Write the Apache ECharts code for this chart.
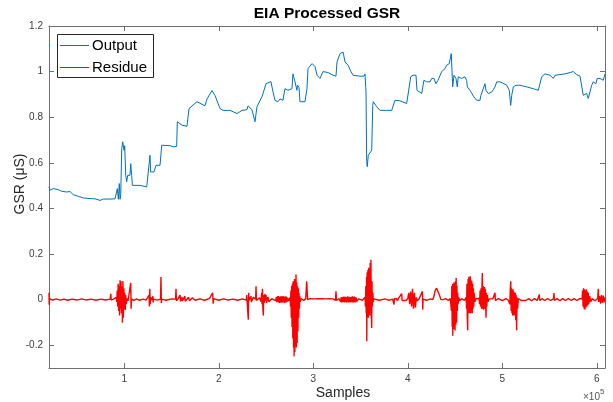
<!DOCTYPE html>
<html>
<head>
<meta charset="utf-8">
<script src="https://cdn.jsdelivr.net/npm/echarts@6/dist/echarts.min.js"></script>
<style>
  html, body { margin: 0; padding: 0; background: #fff; }
  #chart { width: 613px; height: 402px; }
</style>
</head>
<body>
<div id="chart"></div>
<script>
// Sample index is in units of 1e5 samples (axis shows the x10^5 multiplier).
const xMin = 0.203;
const xMax = 6.087;
const yMin = -0.3;
const yMax = 1.2;
const xTicks = [1, 2, 3, 4, 5, 6];
const yTicks = [-0.2, 0, 0.2, 0.4, 0.6, 0.8, 1, 1.2];
const seriesNames = ['Output', 'Residue'];
const seriesColors = ['#0072BD', '#FF0000'];

// Processed GSR output (µS)
const outputPoints = [
  [0.203,0.495],[0.214,0.480],[0.249,0.487],[0.267,0.490],[0.302,0.482],[0.338,0.475],
  [0.390,0.472],[0.425,0.474],[0.460,0.460],[0.513,0.453],[0.566,0.446],[0.637,0.443],
  [0.690,0.442],[0.743,0.435],[0.778,0.441],[0.849,0.441],[0.902,0.442],[0.920,0.438],
  [0.926,0.487],[0.937,0.440],[0.947,0.509],[0.955,0.440],[0.962,0.460],[0.973,0.662],
  [0.983,0.692],[0.997,0.655],[1.004,0.675],[1.015,0.545],[1.025,0.517],[1.036,0.545],
  [1.060,0.545],[1.068,0.596],[1.078,0.545],[1.085,0.501],[1.166,0.501],[1.184,0.494],
  [1.237,0.494],[1.254,0.500],[1.272,0.633],[1.279,0.560],[1.314,0.560],[1.335,0.589],
  [1.378,0.589],[1.396,0.677],[1.484,0.675],[1.519,0.670],[1.554,0.672],[1.561,0.780],
  [1.611,0.765],[1.663,0.760],[1.685,0.838],[1.769,0.868],[1.854,0.850],[1.875,0.880],
  [1.928,0.917],[1.960,0.895],[2.013,0.838],[2.044,0.830],[2.118,0.830],[2.193,0.816],
  [2.245,0.830],[2.298,0.833],[2.309,0.850],[2.351,0.833],[2.383,0.780],[2.404,0.846],
  [2.457,0.890],[2.468,0.882],[2.500,0.947],[2.521,0.940],[2.552,0.956],[2.574,0.910],
  [2.595,0.874],[2.626,0.868],[2.648,0.880],[2.679,0.874],[2.700,0.925],[2.732,0.918],
  [2.774,0.925],[2.785,0.990],[2.806,0.956],[2.827,0.918],[2.833,0.940],[2.849,0.930],
  [2.859,0.868],[2.912,0.868],[2.933,0.925],[2.944,1.013],[2.987,1.035],[3.018,1.022],
  [3.040,0.984],[3.071,0.970],[3.103,1.000],[3.156,0.996],[3.209,0.984],[3.240,0.980],
  [3.251,1.042],[3.283,1.079],[3.315,1.086],[3.336,1.042],[3.368,1.028],[3.399,1.000],
  [3.420,0.984],[3.494,0.980],[3.537,0.980],[3.547,0.990],[3.555,0.930],[3.558,0.910],
  [3.565,0.605],[3.571,0.583],[3.582,0.633],[3.618,0.655],[3.629,0.852],[3.635,0.868],
  [3.671,0.846],[3.706,0.830],[3.777,0.830],[3.830,0.830],[3.843,0.826],[3.864,0.874],
  [3.917,0.872],[3.988,0.860],[4.001,0.868],[4.031,0.977],[4.055,0.984],[4.087,0.984],
  [4.097,0.918],[4.147,0.904],[4.171,0.962],[4.200,0.955],[4.235,0.955],[4.253,0.970],
  [4.277,0.970],[4.298,0.947],[4.320,0.962],[4.359,1.000],[4.394,1.013],[4.412,1.028],
  [4.439,1.035],[4.454,1.028],[4.460,1.079],[4.475,0.933],[4.489,0.984],[4.510,0.970],
  [4.524,0.933],[4.534,0.977],[4.570,0.970],[4.605,0.977],[4.623,0.961],[4.630,0.933],
  [4.658,0.918],[4.676,0.910],[4.700,0.889],[4.729,0.874],[4.764,0.874],[4.774,0.896],
  [4.792,0.904],[4.817,0.947],[4.827,0.918],[4.852,0.904],[4.888,0.910],[4.923,0.933],
  [4.941,0.955],[4.976,0.955],[5.018,0.947],[5.047,0.940],[5.074,0.918],[5.089,0.852],
  [5.100,0.896],[5.117,0.933],[5.145,0.940],[5.159,0.947],[5.187,0.940],[5.258,0.933],
  [5.328,0.925],[5.381,0.918],[5.417,0.977],[5.452,0.990],[5.505,0.984],[5.540,0.970],
  [5.558,0.984],[5.611,0.987],[5.664,0.990],[5.717,0.996],[5.751,1.000],[5.787,0.987],
  [5.822,0.980],[5.840,0.977],[5.857,0.896],[5.875,0.889],[5.893,0.904],[5.910,0.882],
  [5.928,0.882],[5.946,0.940],[5.963,0.955],[5.991,0.947],[6.005,0.970],[6.034,0.970],
  [6.069,0.962],[6.087,0.990]
];

// Residue (µS)
const residuePoints = [
  [0.203,0.030],[0.205,-0.022],[0.208,0.004],[0.240,-0.002],[0.280,0.003],[0.320,-0.002],
  [0.360,0.002],[0.400,-0.003],[0.450,0.002],[0.500,-0.002],[0.550,0.003],[0.600,-0.002],
  [0.650,0.002],[0.700,-0.003],[0.750,0.002],[0.800,-0.002],[0.850,0.002],[0.857,0.025],
  [0.861,-0.002],[0.890,0.003],[0.910,-0.003],
  [0.915,0.010],[0.920,-0.010],[0.925,0.040],[0.930,-0.030],[0.935,0.070],[0.940,-0.050],
  [0.945,0.060],[0.950,-0.070],[0.955,0.085],[0.960,-0.040],[0.965,0.080],[0.970,-0.060],
  [0.975,0.060],[0.980,-0.102],[0.985,0.082],[0.990,-0.080],[0.995,0.050],[1.000,-0.040],
  [1.005,0.030],[1.010,-0.045],[1.015,0.020],[1.020,-0.020],[1.030,0.005],[1.040,-0.005],
  [1.060,0.002],[1.068,0.073],[1.072,-0.040],[1.076,0.003],[1.100,-0.003],[1.130,0.003],
  [1.160,-0.003],[1.200,0.002],[1.230,-0.002],
  [1.262,0.020],[1.266,-0.030],[1.270,0.047],[1.274,-0.020],[1.278,0.010],[1.290,-0.003],
  [1.302,0.015],[1.306,-0.012],[1.310,0.002],[1.350,-0.002],[1.383,0.002],[1.388,0.099],
  [1.392,-0.015],[1.396,0.002],[1.440,-0.003],[1.500,0.003],[1.543,0.002],[1.547,0.047],
  [1.551,-0.005],[1.570,0.004],[1.590,0.020],[1.595,-0.008],[1.610,0.012],[1.615,-0.006],
  [1.640,0.015],[1.645,-0.007],[1.680,0.010],[1.690,-0.005],[1.720,0.008],[1.750,-0.003],
  [1.800,0.003],[1.850,-0.003],[1.900,0.004],[1.935,0.030],[1.940,-0.018],[1.945,0.004],
  [2.000,-0.003],[2.050,0.003],[2.100,-0.002],[2.150,0.002],[2.200,-0.003],[2.250,0.003],
  [2.290,-0.002],
  [2.296,0.020],[2.300,-0.010],[2.312,-0.088],[2.316,0.030],[2.320,-0.004],[2.340,0.015],
  [2.345,-0.010],[2.365,0.010],[2.390,0.002],[2.394,0.058],[2.398,-0.004],[2.430,0.008],
  [2.445,-0.008],[2.454,0.030],[2.458,-0.020],[2.462,0.047],[2.466,-0.030],[2.471,-0.070],
  [2.475,0.020],[2.480,-0.015],[2.489,0.025],[2.495,-0.005],[2.500,0.020],[2.505,-0.015],
  [2.520,0.012],[2.530,-0.010],[2.560,0.004],[2.600,-0.004],
  [2.610,0.010],[2.615,-0.012],[2.620,0.014],[2.625,-0.010],[2.630,0.016],[2.635,-0.013],
  [2.640,0.012],[2.645,-0.015],[2.650,0.013],[2.655,-0.011],[2.660,0.015],[2.665,-0.014],
  [2.670,0.012],[2.675,-0.012],[2.680,0.016],[2.685,-0.013],[2.690,0.011],[2.695,-0.015],
  [2.700,0.013],[2.705,-0.012],[2.710,0.014],[2.715,-0.011],[2.720,0.010],[2.725,-0.009],
  [2.730,0.007],[2.740,-0.006],
  [2.755,0.010],[2.759,-0.030],[2.763,0.040],[2.767,-0.080],[2.771,0.060],[2.775,-0.120],
  [2.779,0.070],[2.783,-0.170],[2.787,0.080],[2.791,-0.210],[2.795,0.070],[2.797,-0.249],
  [2.801,0.090],[2.805,-0.230],[2.809,0.085],[2.813,-0.200],[2.817,0.110],[2.821,-0.210],
  [2.825,0.075],[2.829,-0.190],[2.833,0.060],[2.837,-0.140],[2.841,0.050],[2.845,-0.080],
  [2.849,0.030],[2.853,-0.040],[2.857,0.015],[2.862,-0.010],[2.870,0.005],[2.900,-0.004],
  [2.920,0.005],[2.930,0.080],[2.940,0.000],[2.950,-0.005],
  [2.970,0.004],[2.990,-0.004],[3.010,0.003],[3.030,-0.004],[3.050,0.004],[3.070,-0.003],
  [3.090,0.004],[3.110,-0.004],[3.130,0.003],[3.150,-0.004],[3.170,0.004],[3.190,-0.003],
  [3.210,0.003],[3.235,-0.003],[3.240,0.036],[3.245,-0.004],[3.270,0.004],
  [3.290,-0.010],[3.295,0.011],[3.300,-0.012],[3.305,0.010],[3.310,-0.011],[3.315,0.012],
  [3.320,-0.010],[3.325,0.013],[3.330,-0.012],[3.335,0.011],[3.340,-0.010],[3.345,0.012],
  [3.350,-0.013],[3.355,0.010],[3.360,-0.011],[3.365,0.014],[3.370,-0.012],[3.375,0.010],
  [3.380,-0.011],[3.385,0.012],[3.390,-0.013],[3.395,0.011],[3.400,-0.010],[3.405,0.012],
  [3.410,-0.012],[3.415,0.014],[3.420,-0.013],[3.425,0.011],[3.430,-0.012],[3.435,0.013],
  [3.440,-0.011],[3.445,0.010],[3.450,-0.012],[3.455,0.009],[3.460,-0.008],[3.480,0.003],
  [3.520,-0.003],[3.540,0.003],
  [3.548,0.010],[3.552,-0.030],[3.556,0.060],[3.560,-0.060],[3.564,0.100],[3.566,-0.183],
  [3.570,0.120],[3.574,-0.070],[3.578,0.130],[3.582,-0.080],[3.586,0.140],[3.590,-0.060],
  [3.594,0.130],[3.598,-0.070],[3.602,0.160],[3.606,-0.050],[3.610,0.175],[3.614,-0.060],
  [3.618,-0.124],[3.621,0.080],[3.625,-0.030],[3.630,0.030],[3.635,-0.010],[3.640,0.003],
  [3.700,-0.003],[3.760,0.003],[3.800,-0.003],[3.840,0.002],
  [3.854,-0.022],[3.858,0.004],[3.870,-0.004],[3.880,0.005],[3.890,-0.005],[3.900,0.004],
  [3.920,-0.004],[3.935,0.026],[3.940,-0.004],[3.960,0.004],[3.980,-0.004],[4.000,0.005],
  [4.010,0.029],[4.020,-0.020],[4.030,0.035],[4.040,-0.030],[4.050,0.047],[4.060,-0.040],
  [4.070,0.030],[4.080,-0.035],[4.090,0.010],[4.100,-0.005],[4.120,0.004],[4.140,-0.004],
  [4.155,0.036],[4.158,-0.044],[4.162,0.002],[4.200,-0.003],[4.240,0.003],
  [4.265,0.000],[4.280,0.020],[4.290,0.040],[4.305,0.050],[4.320,0.045],[4.335,0.020],
  [4.350,0.000],[4.360,-0.007],[4.375,0.000],[4.400,0.004],[4.430,-0.004],[4.450,0.005],
  [4.458,0.010],[4.462,-0.050],[4.466,0.060],[4.470,-0.120],[4.474,0.070],[4.476,-0.158],
  [4.480,0.065],[4.484,-0.130],[4.488,0.075],[4.492,-0.120],[4.496,0.070],[4.500,-0.135],
  [4.504,0.080],[4.508,-0.110],[4.512,0.095],[4.516,-0.100],[4.520,0.060],[4.524,-0.050],
  [4.528,0.030],[4.532,-0.020],[4.540,0.010],[4.550,-0.005],[4.570,0.004],[4.600,-0.004],
  [4.618,0.010],[4.622,-0.040],[4.626,0.070],[4.630,-0.080],[4.634,-0.134],[4.638,0.090],
  [4.642,-0.060],[4.646,0.100],[4.650,-0.060],[4.654,0.090],[4.658,-0.055],[4.662,0.102],
  [4.666,-0.060],[4.670,0.085],[4.674,-0.050],[4.678,0.080],[4.682,-0.060],[4.686,0.070],
  [4.690,-0.040],[4.694,0.050],[4.698,-0.030],[4.702,0.030],[4.710,-0.010],[4.720,0.004],
  [4.740,-0.004],
  [4.755,0.005],[4.760,-0.020],[4.765,0.040],[4.770,-0.030],[4.775,0.050],[4.780,-0.040],
  [4.785,0.060],[4.789,0.117],[4.793,-0.040],[4.797,0.060],[4.801,-0.045],[4.805,0.050],
  [4.809,-0.040],[4.813,0.055],[4.817,-0.040],[4.821,0.045],[4.825,-0.035],[4.828,-0.080],
  [4.832,0.030],[4.836,-0.030],[4.842,0.020],[4.850,-0.010],[4.860,0.003],[4.880,-0.004],
  [4.900,0.004],[4.923,0.030],[4.927,-0.004],[4.960,0.004],[5.000,-0.004],[5.040,0.004],
  [5.065,-0.003],
  [5.075,0.005],[5.080,-0.020],[5.085,0.050],[5.090,0.080],[5.094,-0.050],[5.098,0.050],
  [5.102,-0.060],[5.106,0.040],[5.110,-0.070],[5.114,0.045],[5.118,-0.070],[5.122,0.035],
  [5.126,-0.060],[5.130,0.030],[5.134,-0.070],[5.138,0.030],[5.142,-0.090],[5.146,0.020],
  [5.152,-0.134],[5.156,0.010],[5.162,-0.040],[5.170,0.005],
  [5.200,-0.004],[5.220,0.004],[5.250,-0.004],[5.280,0.004],[5.310,-0.005],[5.340,0.004],
  [5.370,-0.004],[5.392,0.022],[5.396,-0.004],[5.420,0.004],[5.450,-0.004],[5.480,0.005],
  [5.510,-0.004],[5.543,0.004],[5.547,0.029],[5.551,-0.004],[5.580,0.004],[5.610,-0.005],
  [5.640,0.004],[5.670,-0.004],[5.700,0.005],[5.730,-0.004],[5.760,0.004],[5.790,-0.004],
  [5.820,0.004],[5.840,-0.004],
  [5.845,0.005],[5.850,0.040],[5.855,-0.030],[5.860,0.050],[5.865,-0.040],[5.870,0.045],
  [5.875,-0.044],[5.880,0.040],[5.885,-0.035],[5.890,0.045],[5.895,-0.030],[5.900,0.035],
  [5.905,-0.025],[5.910,0.030],[5.915,-0.020],[5.925,0.015],[5.935,-0.010],[5.950,0.004],
  [5.980,-0.005],[6.010,0.005],[6.016,0.047],[6.020,-0.010],[6.030,0.015],[6.040,-0.018],
  [6.050,0.020],[6.060,-0.015],[6.070,0.018],[6.080,-0.012],[6.087,0.010]
];

const FONT = '"Liberation Sans", Arial, Helvetica, sans-serif';
const AXIS_COLOR = '#6f6f6f';
const LABEL_COLOR = '#3c3c3c';

// One side of the boxed axes; ticks point inward like a closed plot frame.
function boxAxis(pos, min, max, ticks, showLabels) {
  return {
    type: 'value',
    position: pos,
    min: min,
    max: max,
    axisLine: { show: true, onZero: false, lineStyle: { color: AXIS_COLOR, width: 1 } },
    axisTick: { show: true, inside: true, length: 5, customValues: ticks,
                lineStyle: { color: AXIS_COLOR, width: 1 } },
    axisLabel: { show: showLabels, customValues: ticks, fontFamily: FONT, fontSize: 10,
                 color: LABEL_COLOR, margin: 6,
                 formatter: v => String(Math.round(v * 10) / 10) },
    splitLine: { show: false }
  };
}

// Boxed legend in the upper-left corner: a short line key and the series name per row.
function legendBox(left, top, width, rowHeight) {
  const children = [{
    type: 'rect',
    shape: { x: left + 0.5, y: top + 0.5, width: width, height: rowHeight * seriesNames.length - 1 },
    style: { fill: '#ffffff', stroke: '#262626', lineWidth: 1 }
  }];
  seriesNames.forEach((name, i) => {
    const cy = top + 11.5 + i * rowHeight;
    children.push({
      type: 'line',
      shape: { x1: left + 3, y1: cy, x2: left + 32, y2: cy },
      style: { stroke: seriesColors[i], lineWidth: 1 }
    });
    children.push({
      type: 'text', x: left + 35, y: cy,
      style: { text: name, font: '15px ' + FONT, fill: '#000',
               textAlign: 'left', textVerticalAlign: 'middle' }
    });
  });
  return { type: 'group', z: 100, children: children };
}

const chart = echarts.init(document.getElementById('chart'), null, { renderer: 'canvas' });
chart.setOption({
  animation: false,
  backgroundColor: '#ffffff',
  grid: { left: 49, right: 8, top: 26, bottom: 34 },
  xAxis: [
    boxAxis('bottom', xMin, xMax, xTicks, true),
    boxAxis('top', xMin, xMax, xTicks, false)
  ],
  yAxis: [
    boxAxis('left', yMin, yMax, yTicks, true),
    boxAxis('right', yMin, yMax, yTicks, false)
  ],
  graphic: [
    legendBox(57, 34, 96, 22),
    { type: 'text', x: 327, y: 14,
      style: { text: 'EIA Processed GSR', font: 'bold 15.5px ' + FONT, fill: '#000',
               textAlign: 'center', textVerticalAlign: 'middle' } },
    { type: 'text', x: 343, y: 393,
      style: { text: 'Samples', font: '14px ' + FONT, fill: '#262626',
               textAlign: 'center', textVerticalAlign: 'middle' } },
    { type: 'text', x: 20, y: 184, rotation: Math.PI / 2,
      style: { text: 'GSR (\u03bcS)', font: '14px ' + FONT, fill: '#262626',
               textAlign: 'center', textVerticalAlign: 'middle' } },
    { type: 'text', x: 583, y: 397,
      style: { text: '\u00d710', font: '10px ' + FONT, fill: '#555',
               textAlign: 'left', textVerticalAlign: 'middle' } },
    { type: 'text', x: 600, y: 392,
      style: { text: '5', font: '8px ' + FONT, fill: '#555',
               textAlign: 'left', textVerticalAlign: 'middle' } }
  ],
  series: [
    {
      name: seriesNames[0], type: 'line', xAxisIndex: 0, yAxisIndex: 0,
      data: outputPoints, symbol: 'none', showSymbol: false,
      lineStyle: { color: seriesColors[0], width: 1 }, itemStyle: { color: seriesColors[0] },
      z: 3
    },
    {
      name: seriesNames[1], type: 'line', xAxisIndex: 0, yAxisIndex: 0,
      data: residuePoints, symbol: 'none', showSymbol: false,
      lineStyle: { color: seriesColors[1], width: 1.4 }, itemStyle: { color: seriesColors[1] },
      z: 2
    }
  ]
});
</script>
</body>
</html>
